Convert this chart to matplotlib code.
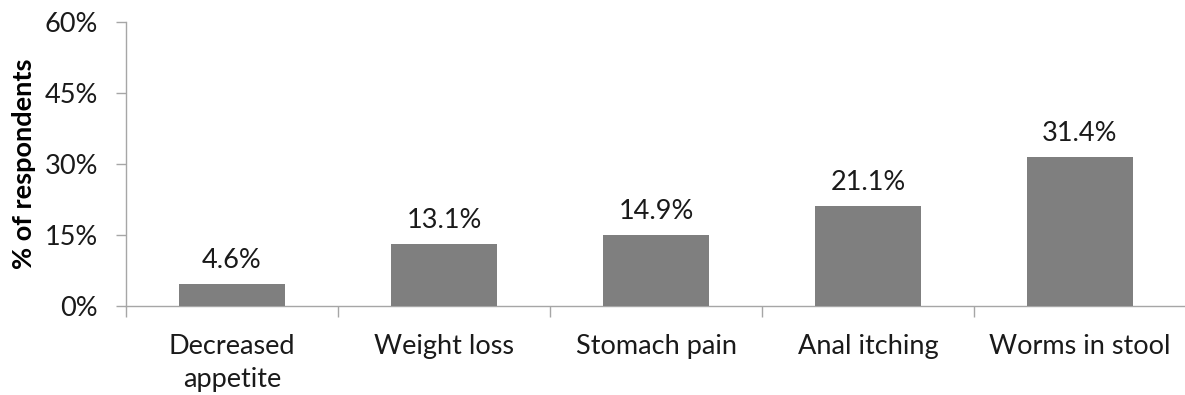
import matplotlib.pyplot as plt
import numpy as np

# symptom categories and share of respondents (%)
categories = ['Decreased\nappetite', 'Weight loss', 'Stomach pain', 'Anal itching', 'Worms in stool']
values = [4.6, 13.1, 14.9, 21.1, 31.4]
yticks = [0, 15, 30, 45, 60]

plt.rcParams['font.family'] = ['Lato', 'DejaVu Sans']
FS = 19.5

fig = plt.figure(figsize=(11.85, 3.95), dpi=100)
ax = fig.add_axes([126 / 1185, 1 - 306 / 395, (1186 - 126) / 1185, (306 - 22) / 395])

x = np.arange(len(categories))
bars = ax.bar(x, values, width=0.5, color='#7f7f7f', zorder=3)

for b, v in zip(bars, values):
    ax.annotate(f'{v:.1f}%', (b.get_x() + b.get_width() / 2, v),
                xytext=(0, 8), textcoords='offset points',
                ha='center', va='bottom', fontsize=FS, color='#1a1a1a')

ax.set_xlim(-0.5, len(categories) - 0.5)
ax.set_ylim(0, 60)
ax.set_yticks(yticks)
ax.set_yticklabels([f'{t}%' for t in yticks], fontsize=FS, color='#1a1a1a')
ax.set_ylabel('% of respondents', fontsize=FS, fontweight='bold', labelpad=6)

# category labels sit between the boundary ticks
ax.set_xticks(x)
ax.set_xticklabels(categories, fontsize=FS, color='#1a1a1a', linespacing=1.4)
ax.tick_params(axis='x', length=0, pad=20)
ax.set_xticks(np.arange(len(categories) + 1) - 0.5, minor=True)
ax.tick_params(axis='x', which='minor', length=8, color='#a6a6a6', width=1)
ax.tick_params(axis='y', length=7, color='#a6a6a6', width=1, pad=13)

for side in ['top', 'right']:
    ax.spines[side].set_visible(False)
for side in ['left', 'bottom']:
    ax.spines[side].set_color('#a6a6a6')
    ax.spines[side].set_linewidth(1)

fig.savefig('out.png', dpi=100)
